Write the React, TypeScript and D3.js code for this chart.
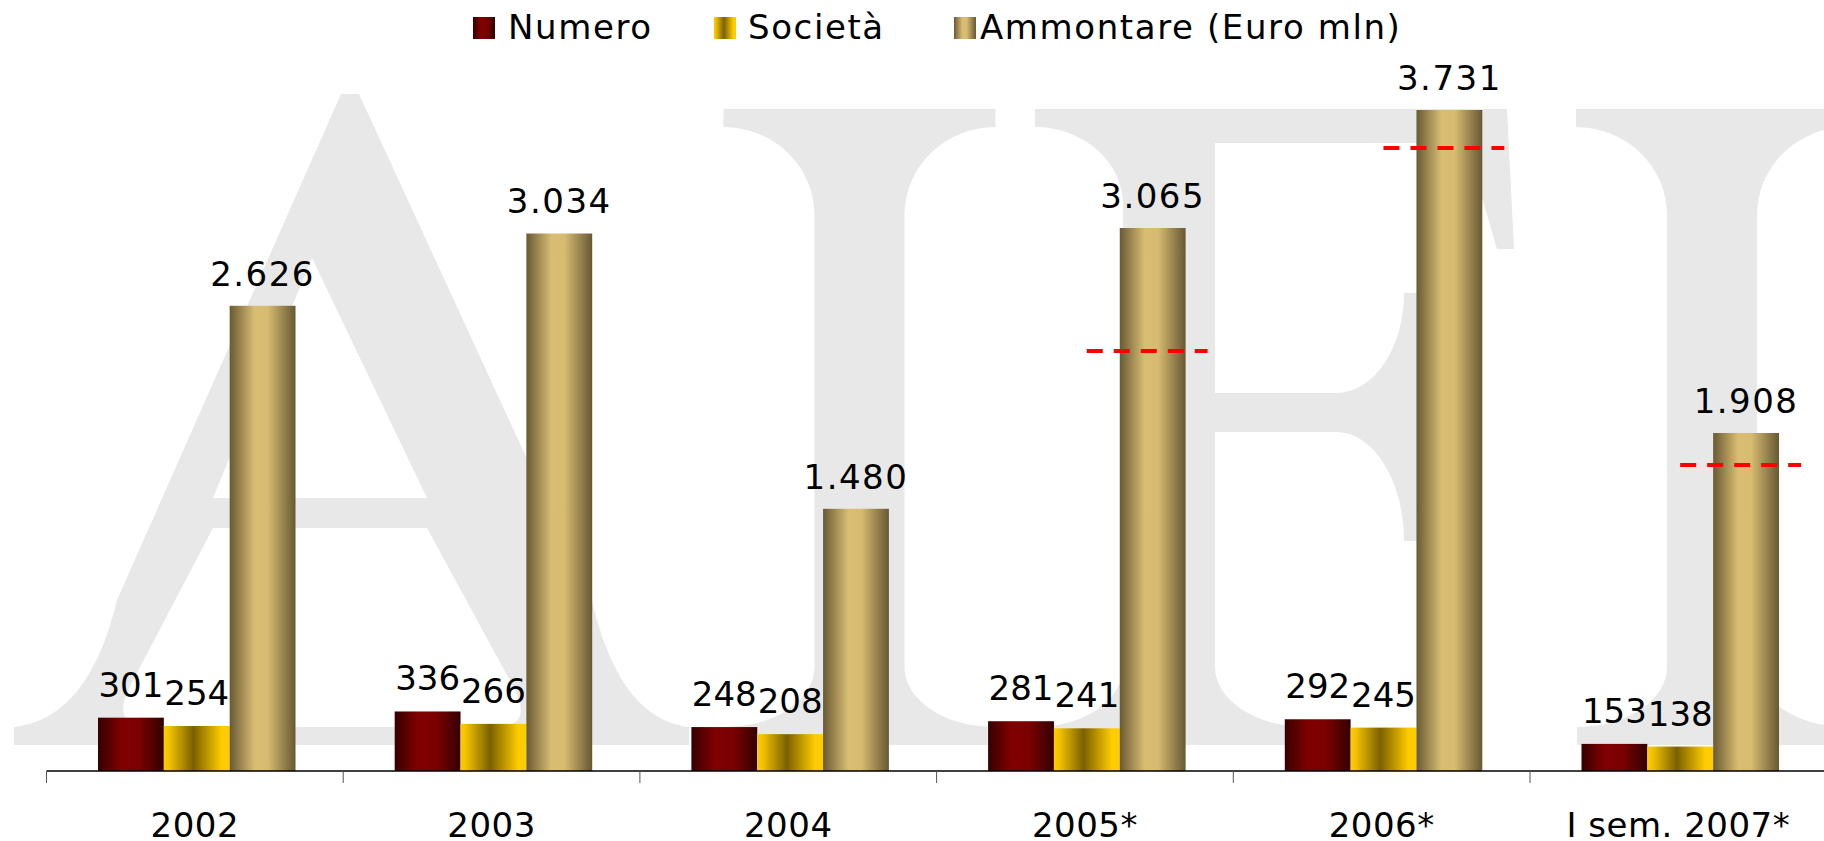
import React from 'react';
import * as d3 from 'd3';

const categories = ['2002', '2003', '2004', '2005*', '2006*', 'I sem. 2007*'];
const numero = [301, 336, 248, 281, 292, 153];
const societa = [254, 266, 208, 241, 245, 138];
const ammontare = [2626, 3034, 1480, 3065, 3731, 1908];
const seriesNames = ['Numero', 'Società', 'Ammontare (Euro mln)'];
const refLineValues: (number | null)[] = [null, null, null, 2371, 3517, 1727];

const W = 1824;
const H = 841;
const AXIS_Y = 771;
const PX_PER_UNIT = 0.17716;

const gradIds = ['gNumero', 'gSocieta', 'gAmmontare'];

// ---- watermark "AIFI" glyph geometry (layout only) ----
const TOP = 109;
const BASE = 745;
function pathI(cx: number) {
  const S = 136, s = 45, Tb = 127, ryT = 88, Bt = 727, rxB = 90, ryB = 60;
  const rxT = S - s;
  return [
    `M${cx - S},${TOP}`, `H${cx + S}`, `V${Tb}`,
    `A${rxT},${ryT} 0 0 0 ${cx + s},${Tb + ryT}`,
    `V${Bt - ryB}`,
    `A${rxB},${ryB} 0 0 0 ${cx + s + rxB},${Bt}`,
    `V${BASE}`, `H${cx - s - rxB}`, `V${Bt}`,
    `A${rxB},${ryB} 0 0 0 ${cx - s},${Bt - ryB}`,
    `V${Tb + ryT}`,
    `A${rxT},${ryT} 0 0 0 ${cx - S},${Tb}`,
    'Z',
  ].join(' ');
}
function pathF() {
  const L = 1035, sl = 1123, sr = 1215, Tb = 127, Bt = 727;
  return [
    `M${L},${TOP}`, `H1507`, `L1514,249`, `H1497`, `L1466,143`, `H${sr}`,
    `V393`, `H1336`, `A68,100 0 0 0 1404,293`, `H1420`, `V541`, `H1404`,
    `A68,109 0 0 0 1336,432`, `H${sr}`,
    `V${Bt - 60}`, `A92,60 0 0 0 ${sr + 92},${Bt}`, `V${BASE}`,
    `H${L}`, `V${Bt}`, `A88,60 0 0 0 ${sl},${Bt - 60}`,
    `V${Tb + 78}`, `A88,78 0 0 0 ${L},${Tb}`, 'Z',
  ].join(' ');
}
function pathA() {
  const outer = 'M341,94 H359 L592,600 C612,688 648,722 689,727 V745 H14 V727 C58,722 96,688 117,600 Z';
  const upper = 'M312,258 L427,498 H213 Z';
  const lower = 'M213,528 H427 L515,690 Q533,727 495,727 H150 Q112,727 128,690 Z';
  return `${outer} ${upper} ${lower}`;
}

export default function App() {
  const y = d3.scaleLinear().domain([0, 4000]).range([AXIS_Y, AXIS_Y - 4000 * PX_PER_UNIT]);
  const x0 = d3.scaleBand<string>().domain(categories).range([46.5, 46.5 + 6 * 296.7]).padding(0);
  const x1 = d3.scaleBand<string>().domain(seriesNames).range([51.5, 249]).padding(0);
  const bw = x1.bandwidth();
  const seriesData = [numero, societa, ammontare];
  const fmt = (v: number) => d3.format(',')(v).replace(/,/g, '.');

  const font = '"DejaVu Sans", Verdana, sans-serif';

  const legendItems = [
    { name: seriesNames[0], sx: 473, tx: 508 },
    { name: seriesNames[1], sx: 714, tx: 748 },
    { name: seriesNames[2], sx: 954, tx: 980 },
  ];

  return (
    <svg width={W} height={H} style={{ position: 'absolute', left: 0, top: 0, background: '#fff' }}>
      <defs>
        <linearGradient id="gNumero" x1="0" x2="1" y1="0" y2="0">
          <stop offset="0%" stopColor="#360000" />
          <stop offset="35%" stopColor="#800000" />
          <stop offset="62%" stopColor="#7c0000" />
          <stop offset="100%" stopColor="#340000" />
        </linearGradient>
        <linearGradient id="gSocieta" x1="0" x2="1" y1="0" y2="0">
          <stop offset="0%" stopColor="#ffcc00" />
          <stop offset="8%" stopColor="#f2c200" />
          <stop offset="45%" stopColor="#7a6100" />
          <stop offset="88%" stopColor="#ffcc00" />
          <stop offset="100%" stopColor="#ffcc00" />
        </linearGradient>
        <linearGradient id="gAmmontare" x1="0" x2="1" y1="0" y2="0">
          <stop offset="0%" stopColor="#6a5a34" />
          <stop offset="38%" stopColor="#d8bd73" />
          <stop offset="58%" stopColor="#d6bb70" />
          <stop offset="100%" stopColor="#685833" />
        </linearGradient>
      </defs>

      {/* watermark AIFI */}
      <g fill="#e8e8e8">
        <path d={pathA()} fillRule="evenodd" />
        <path d={pathI(859.5)} />
        <path d={pathF()} />
        <path d={pathI(1712)} />
      </g>

      {/* legend */}
      <g fontFamily={font} fontSize={34} letterSpacing={1.6}>
        {legendItems.map((it, i) => (
          <g key={i}>
            <rect x={it.sx} y={17} width={22} height={22} fill={`url(#${gradIds[i]})`} />
            <text x={it.tx} y={39} fill="#000">{it.name}</text>
          </g>
        ))}
      </g>

      {/* bars */}
      {categories.map((c, ci) => (
        <g key={c} transform={`translate(${x0(c)},0)`}>
          {seriesNames.map((s, si) => {
            const v = seriesData[si][ci];
            const bx = x1(s)!;
            return (
              <rect key={s} x={bx} y={y(v)} width={bw} height={AXIS_Y - y(v)} fill={`url(#${gradIds[si]})`} />
            );
          })}
        </g>
      ))}

      {/* reference dashed lines */}
      {categories.map((c, ci) => {
        const v = refLineValues[ci];
        if (v == null) return null;
        const bx = x0(c)! + x1(seriesNames[2])!;
        return (
          <line key={c} x1={bx - 33} x2={bx + bw + 22} y1={y(v)} y2={y(v)}
            stroke="#ff0000" strokeWidth={4} strokeDasharray="16 11" />
        );
      })}

      {/* value labels */}
      <g fontFamily={font} fontSize={34} textAnchor="middle" fill="#000">
        {categories.map((c, ci) => (
          <g key={c}>
            {seriesNames.map((s, si) => {
              const v = seriesData[si][ci];
              const cx = x0(c)! + x1(s)! + bw / 2;
              return (
                <text key={s} x={cx} y={y(v) - (si === 2 ? 20 : 21)} letterSpacing={si === 2 ? 1.5 : 0}>{fmt(v)}</text>
              );
            })}
          </g>
        ))}
      </g>

      {/* axis */}
      <line x1={46.5} x2={W} y1={AXIS_Y} y2={AXIS_Y} stroke="#000" strokeWidth={1.5} />
      {categories.map((c) => (
        <line key={c} x1={x0(c)!} x2={x0(c)!} y1={AXIS_Y} y2={AXIS_Y + 12} stroke="#555" strokeWidth={1} />
      ))}
      <g fontFamily={font} fontSize={34} textAnchor="middle" fill="#000" letterSpacing={0.5}>
        {categories.map((c) => (
          <text key={c} x={x0(c)! + x0.bandwidth() / 2} y={837}>{c}</text>
        ))}
      </g>
    </svg>
  );
}
